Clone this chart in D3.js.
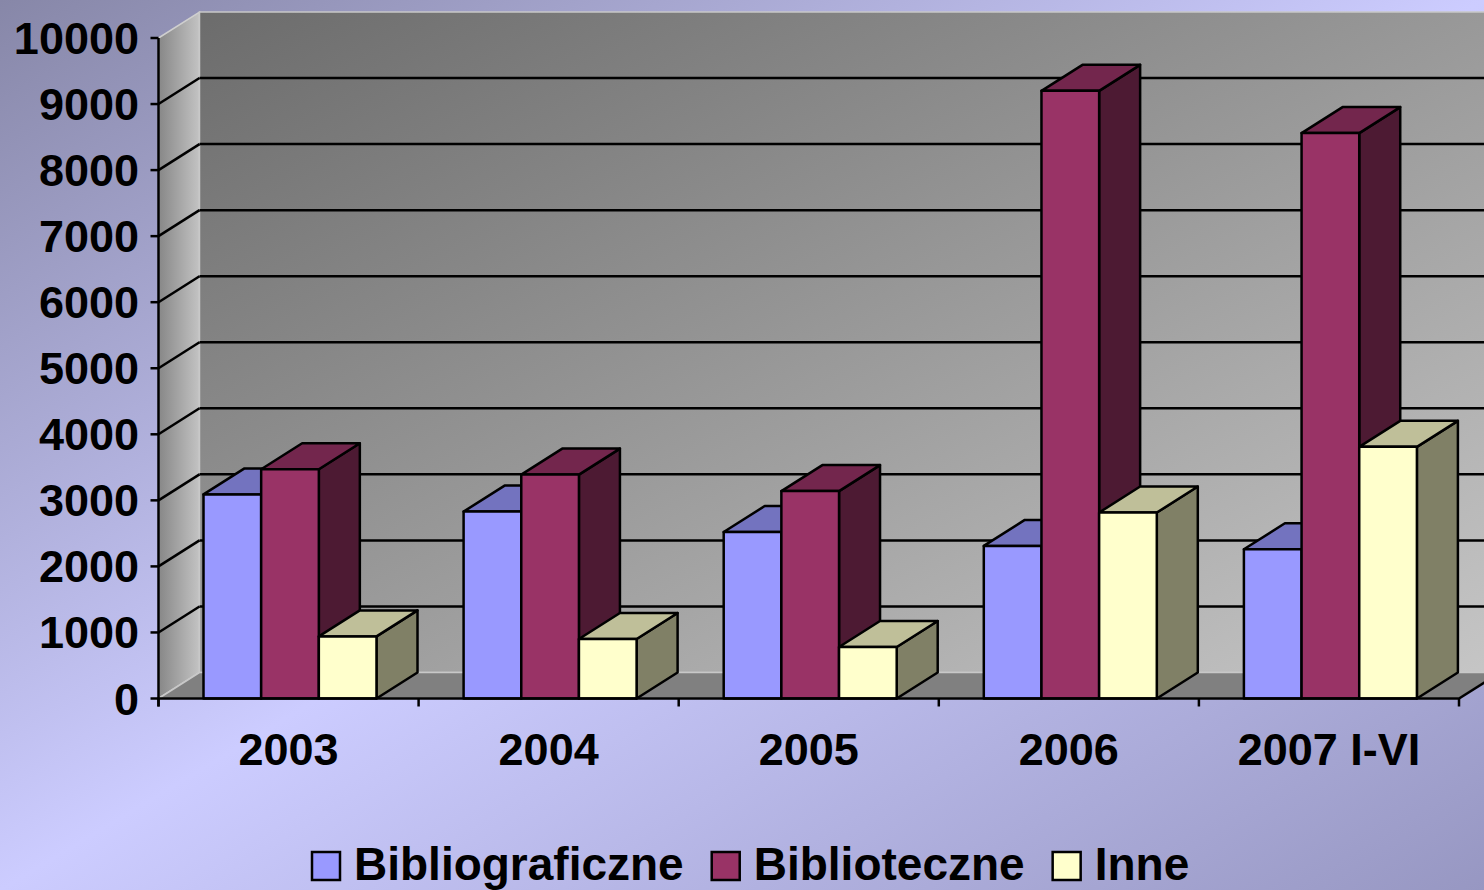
<!DOCTYPE html>
<html>
<head>
<meta charset="utf-8">
<script src="https://cdn.jsdelivr.net/npm/d3@7"></script>
<style>
  html, body { margin: 0; padding: 0; overflow: hidden; }
  text { font-family: "Liberation Sans", Arial, sans-serif; font-weight: bold; }
</style>
</head>
<body>
<div id="chart"></div>
<script>
var categories = ['2003', '2004', '2005', '2006', '2007 I-VI'];
var series = ['Bibliograficzne', 'Biblioteczne', 'Inne'];
var bibliograficzne = [3090, 2830, 2520, 2310, 2260];
var biblioteczne = [3470, 3390, 3140, 9200, 8560];
var inne = [940, 900, 780, 2815, 3810];
var yTicks = [0, 1000, 2000, 3000, 4000, 5000, 6000, 7000, 8000, 9000, 10000];

var seriesValues = [bibliograficzne, biblioteczne, inne];
var front = ['#9999ff', '#993366', '#ffffcc'];
var top_ = ['#7373bf', '#73264d', '#bfbf99'];
var side = ['#4d4d80', '#4d1a33', '#808066'];

var width = 1484,
    height = 890;

var svg = d3.select('#chart')
            .append('svg')
            .attr('width', width)
            .attr('height', height);

var defs = svg.append('defs');

var bg = defs.append('linearGradient').attr('id', 'bg')
             .attr('x1', 0).attr('y1', 0).attr('x2', 1).attr('y2', 1);
bg.append('stop').attr('offset', 0).attr('stop-color', '#8787a8');
bg.append('stop').attr('offset', 0.5).attr('stop-color', '#ccccff');
bg.append('stop').attr('offset', 1).attr('stop-color', '#9797c2');

var wall = defs.append('linearGradient').attr('id', 'wall')
               .attr('x1', 0).attr('y1', 0).attr('x2', 1).attr('y2', 1);
wall.append('stop').attr('offset', 0).attr('stop-color', '#6c6c6c');
wall.append('stop').attr('offset', 1).attr('stop-color', '#c6c6c6');

var sideWall = defs.append('linearGradient').attr('id', 'sidewall')
                   .attr('x1', 0).attr('y1', 0).attr('x2', 1).attr('y2', 0);
sideWall.append('stop').attr('offset', 0).attr('stop-color', '#878787');
sideWall.append('stop').attr('offset', 1).attr('stop-color', '#c3c3c3');

svg.append('rect')
   .attr('width', width).attr('height', height)
   .attr('fill', 'url(#bg)');

// depth offset of the 3d box
var dx = 41,
    dy = -26;

var x0 = d3.scaleBand().domain(categories).range([158.5, 1459]);
var x1 = d3.scaleBand().domain(series).range([45, 218]);
var y = d3.scaleLinear().domain([0, 10000]).range([698.5, 38]);

var left = x0.range()[0],
    right = x0.range()[1],
    y0 = y(0),
    yMax = y(10000);

function pts(a) {
  return a.map(function(p) { return p.join(','); }).join(' ');
}

// walls and floor
svg.append('polygon')
   .attr('points', pts([[left, yMax], [left + dx, yMax + dy], [left + dx, y0 + dy], [left, y0]]))
   .attr('fill', 'url(#sidewall)')
   .attr('stroke', '#cfcfcf').attr('stroke-width', 1.5);

svg.append('rect')
   .attr('x', left + dx).attr('y', yMax + dy)
   .attr('width', right - left).attr('height', y0 - yMax)
   .attr('fill', 'url(#wall)')
   .attr('stroke', '#c8c8c8').attr('stroke-width', 1.5);

svg.append('polygon')
   .attr('points', pts([[left, y0], [left + dx, y0 + dy], [right + dx, y0 + dy], [right, y0]]))
   .attr('fill', '#808080')
   .attr('stroke', '#c8c8c8').attr('stroke-width', 1.5);

// gridlines
var inner = yTicks.slice(1, -1);
svg.selectAll('.gridside').data(inner).enter()
   .append('line')
   .attr('x1', left).attr('y1', function(d) { return y(d); })
   .attr('x2', left + dx).attr('y2', function(d) { return y(d) + dy; })
   .attr('stroke', '#000').attr('stroke-width', 2.5);

svg.selectAll('.gridback').data(inner).enter()
   .append('line')
   .attr('x1', left + dx).attr('y1', function(d) { return y(d) + dy; })
   .attr('x2', right + dx).attr('y2', function(d) { return y(d) + dy; })
   .attr('stroke', '#000').attr('stroke-width', 2.5);

// bars
var bars = svg.append('g');
categories.forEach(function(c, i) {
  series.forEach(function(s, j) {
    var v = seriesValues[j][i];
    var bx = x0(c) + x1(s),
        bw = x1.bandwidth(),
        yt = y(v);
    var g = bars.append('g')
                .attr('stroke', '#000')
                .attr('stroke-width', 2.5)
                .attr('stroke-linejoin', 'round');
    g.append('polygon')
     .attr('points', pts([[bx + bw, yt], [bx + bw + dx, yt + dy], [bx + bw + dx, y0 + dy], [bx + bw, y0]]))
     .attr('fill', side[j]);
    g.append('polygon')
     .attr('points', pts([[bx, yt], [bx + dx, yt + dy], [bx + bw + dx, yt + dy], [bx + bw, yt]]))
     .attr('fill', top_[j]);
    g.append('rect')
     .attr('x', bx).attr('y', yt)
     .attr('width', bw).attr('height', y0 - yt)
     .attr('fill', front[j]);
  });
});

// axes
svg.append('line')
   .attr('x1', left).attr('y1', yMax).attr('x2', left).attr('y2', y0 + 8)
   .attr('stroke', '#000').attr('stroke-width', 2.5);

svg.append('polyline')
   .attr('points', pts([[left - 1, y0], [right, y0], [right + dx, y0 + dy]]))
   .attr('fill', 'none')
   .attr('stroke', '#000').attr('stroke-width', 2.5);

svg.selectAll('.ytick').data(yTicks).enter()
   .append('line')
   .attr('x1', left - 8).attr('x2', left)
   .attr('y1', function(d) { return y(d); })
   .attr('y2', function(d) { return y(d); })
   .attr('stroke', '#000').attr('stroke-width', 2.5);

svg.selectAll('.ylabel').data(yTicks).enter()
   .append('text')
   .attr('x', 139)
   .attr('y', function(d) { return y(d) + 16; })
   .attr('text-anchor', 'end')
   .attr('font-size', 45)
   .text(function(d) { return d; });

var xTickPos = categories.map(function(c) { return x0(c); }).concat([right]);
svg.selectAll('.xtick').data(xTickPos).enter()
   .append('line')
   .attr('x1', function(d) { return d; }).attr('x2', function(d) { return d; })
   .attr('y1', y0).attr('y2', y0 + 8)
   .attr('stroke', '#000').attr('stroke-width', 2.5);

svg.selectAll('.xlabel').data(categories).enter()
   .append('text')
   .attr('x', function(d) { return x0(d) + x0.bandwidth() / 2; })
   .attr('y', 765)
   .attr('text-anchor', 'middle')
   .attr('font-size', 45)
   .text(function(d) { return d; });

// legend
var legend = svg.append('g');
var lx = 312;
series.forEach(function(s, j) {
  legend.append('rect')
        .attr('x', lx).attr('y', 852)
        .attr('width', 28).attr('height', 28)
        .attr('fill', front[j])
        .attr('stroke', '#000').attr('stroke-width', 2.5);
  var t = legend.append('text')
                .attr('x', lx + 42).attr('y', 880)
                .attr('font-size', 46)
                .text(s);
  lx = lx + 42 + t.node().getComputedTextLength() + 28;
});
</script>
</body>
</html>
